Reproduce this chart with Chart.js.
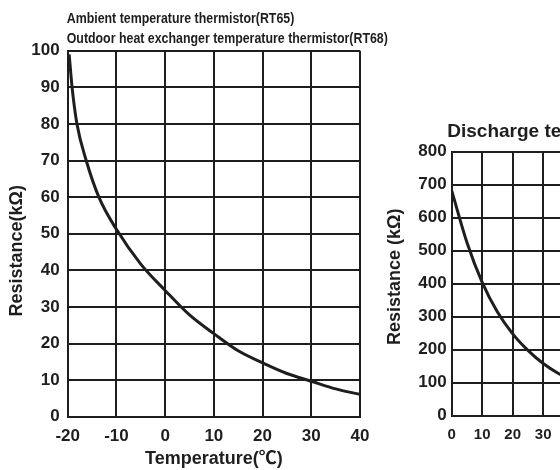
<!DOCTYPE html>
<html>
<head>
<meta charset="utf-8">
<script src="https://cdn.jsdelivr.net/npm/chart.js@4.4.1/dist/chart.umd.min.js"></script>
<style>
  html, body { margin: 0; padding: 0; background: #fff; overflow: hidden; }
  #wrap { position: relative; width: 560px; height: 470px; overflow: hidden; }
  #left { position: absolute; left: 0; top: 0; }
  #right { position: absolute; left: 370px; top: 100px; }
</style>
</head>
<body>
<div id="wrap">
  <canvas id="left" width="400" height="470"></canvas>
  <canvas id="right" width="480" height="370"></canvas>
</div>
<script>
// left chart: RT65 / RT68
const ambientTitle = ['Ambient temperature thermistor(RT65)', 'Outdoor heat exchanger temperature thermistor(RT68)'];
const ambientTemps = [-19.7, -19.1, -18.1, -16.2, -13.6, -10, -5, 0, 5, 10, 15, 20, 25, 30, 35, 40];
const ambientRes = [99, 90, 80, 70, 60, 51.2, 41.7, 34.5, 27.8, 22.7, 18.0, 14.7, 11.8, 9.7, 7.6, 6.1];
const ambientXTicks = [-20, -10, 0, 10, 20, 30, 40];
const ambientYTicks = [0, 10, 20, 30, 40, 50, 60, 70, 80, 90, 100];

// right chart: discharge thermistor (cut off by the frame)
const dischargeTitle = ['Discharge temperature thermistor'];
const dischargeTemps = [0, 5, 10, 15, 20, 25, 30, 35, 40];
const dischargeRes = [682, 525, 404, 314, 248, 198, 158, 128, 105];
const dischargeXTicks = [0, 10, 20, 30, 40, 50, 60, 70, 80, 90, 100, 110, 120];
const dischargeYTicks = [0, 100, 200, 300, 400, 500, 600, 700, 800];

const ink = '#1e1e1e';
const sans = "'Liberation Sans', Arial, 'Noto Sans CJK SC', sans-serif";
const tickFont = { family: sans, weight: 'bold', size: 17 };

function toPoints(xs, ys) {
  return xs.map((x, i) => ({ x: x, y: ys[i] }));
}

function gridOpts() {
  return { color: ink, lineWidth: 2, drawTicks: false };
}

// heading lines above the plot and the rotated y title
const headingPlugin = {
  id: 'heading',
  afterDraw(chart, args, opts) {
    const ctx = chart.ctx;
    const area = chart.chartArea;
    ctx.save();
    ctx.fillStyle = ink;
    ctx.font = opts.font;
    ctx.textBaseline = 'alphabetic';
    ctx.textAlign = 'left';
    opts.lines.forEach((line, i) => {
      ctx.save();
      ctx.translate(area.left + opts.dx, area.top - opts.rise + i * opts.gap);
      ctx.scale(opts.scaleX, 1);
      ctx.fillText(line, 0, 0);
      ctx.restore();
    });
    const yt = opts.yTitle;
    ctx.font = yt.font;
    ctx.textAlign = 'center';
    ctx.textBaseline = 'middle';
    ctx.translate(area.left - yt.back, (area.top + area.bottom) / 2 + yt.shift);
    ctx.rotate(-Math.PI / 2);
    ctx.fillText(yt.text, 0, 0);
    ctx.restore();
  }
};

new Chart(document.getElementById('left'), {
  type: 'line',
  data: {
    datasets: [{
      data: toPoints(ambientTemps, ambientRes),
      borderColor: ink,
      borderWidth: 3,
      pointRadius: 0,
      cubicInterpolationMode: 'monotone',
      fill: false
    }]
  },
  options: {
    responsive: false,
    animation: false,
    devicePixelRatio: 1,
    layout: { padding: { left: 0, right: 40, top: 50.7, bottom: 0 } },
    plugins: {
      legend: { display: false },
      tooltip: { enabled: false },
      heading: {
        lines: ambientTitle,
        font: 'bold 15px ' + sans,
        scaleX: 0.825,
        dx: -1,
        rise: 27.4,
        gap: 19.4,
        yTitle: { text: 'Resistance(kΩ)', font: 'bold 18px ' + sans, back: 50.7, shift: 17 }
      }
    },
    scales: {
      x: {
        type: 'linear',
        min: ambientXTicks[0],
        max: ambientXTicks[ambientXTicks.length - 1],
        afterBuildTicks: s => { s.ticks = ambientXTicks.map(v => ({ value: v })); },
        ticks: { color: ink, font: tickFont, padding: 9, maxRotation: 0 },
        grid: gridOpts(),
        border: { color: ink, width: 2 },
        title: { display: true, text: 'Temperature(℃)', color: ink,
                 font: { family: sans, weight: 'bold', size: 18 },
                 padding: { top: 0, bottom: 0 } },
        afterFit: s => { s.height = 53.3; }
      },
      y: {
        min: 0,
        max: 100,
        afterBuildTicks: s => { s.ticks = ambientYTicks.map(v => ({ value: v })); },
        ticks: { color: ink, font: tickFont, padding: 8 },
        grid: gridOpts(),
        border: { color: ink, width: 2 },
        afterFit: s => { s.width = 67.7; }
      }
    }
  },
  plugins: [headingPlugin]
});

new Chart(document.getElementById('right'), {
  type: 'line',
  data: {
    datasets: [{
      data: toPoints(dischargeTemps, dischargeRes),
      borderColor: ink,
      borderWidth: 3,
      pointRadius: 0,
      cubicInterpolationMode: 'monotone',
      fill: false
    }]
  },
  options: {
    responsive: false,
    animation: false,
    devicePixelRatio: 1,
    layout: { padding: { left: 0, right: 32.3, top: 51.7, bottom: 0 } },
    plugins: {
      legend: { display: false },
      tooltip: { enabled: false },
      heading: {
        lines: dischargeTitle,
        font: 'bold 19px ' + sans,
        scaleX: 1,
        dx: -4.4,
        rise: 15,
        gap: 0,
        yTitle: { text: 'Resistance (kΩ)', font: 'bold 18px ' + sans, back: 56.7, shift: -7 }
      }
    },
    scales: {
      x: {
        type: 'linear',
        min: dischargeXTicks[0],
        max: dischargeXTicks[dischargeXTicks.length - 1],
        afterBuildTicks: s => { s.ticks = dischargeXTicks.map(v => ({ value: v })); },
        ticks: { color: ink, font: { family: sans, weight: 'bold', size: 15 }, padding: 10, maxRotation: 0 },
        grid: gridOpts(),
        border: { color: ink, width: 2 },
        afterFit: s => { s.height = 54.3; }
      },
      y: {
        min: 0,
        max: 800,
        afterBuildTicks: s => { s.ticks = dischargeYTicks.map(v => ({ value: v })); },
        ticks: { color: ink, font: tickFont, padding: 5 },
        grid: gridOpts(),
        border: { color: ink, width: 2 },
        afterFit: s => { s.width = 81.7; }
      }
    }
  },
  plugins: [headingPlugin]
});
</script>
</body>
</html>
